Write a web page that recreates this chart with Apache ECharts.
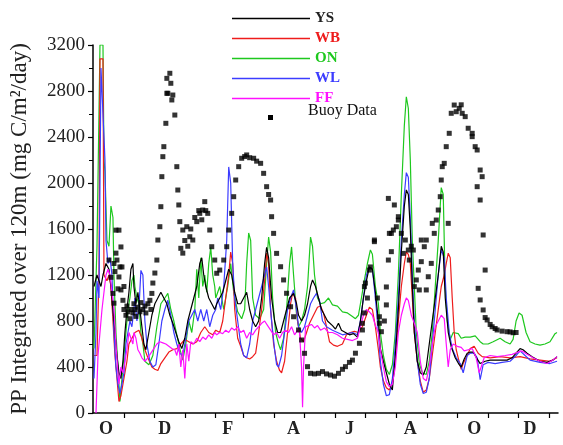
<!DOCTYPE html>
<html>
<head>
<meta charset="utf-8">
<script src="https://cdn.jsdelivr.net/npm/echarts@6/dist/echarts.min.js"></script>
<style>
  html, body { margin: 0; padding: 0; background: #fff; }
  #chart { width: 563px; height: 445px; }
</style>
</head>
<body>
<div id="chart"></div>
<script>
// x values are days counted from 1 October; y values in mg C/m2/day
const monthStarts = [31, 61, 92, 123, 151, 182, 212, 243, 273, 304, 335, 365, 396, 426, 457];
const monthLabels = ['O', 'D', 'F', 'A', 'J', 'A', 'O', 'D'];
const monthLabelDays = [13, 72, 135, 201, 257, 318, 382, 438];

const onLine = [[1,560],[3,560],[4,1450],[6,1450],[7,3200],[10,3200],[11,2200],[12,2100],[14,1500],[16,1450],[18,1800],[20,1700],[21,1200],[23,700],[25,400],[27,100],[29,300],[31,500],[33,700],[35,900],[37,1000],[39,1150],[41,1200],[42,1100],[44,1000],[46,950],[48,700],[50,600],[52,450],[56,420],[60,500],[64,750],[68,950],[72,1000],[75,1040],[78,900],[81,800],[84,680],[87,560],[90,460],[93,600],[96,800],[99,700],[102,900],[104,1250],[106,1000],[108,1350],[110,1100],[112,1200],[114,1050],[116,1300],[118,1440],[120,1200],[122,1100],[123,1000],[127,1100],[131,900],[135,1100],[138,1300],[141,1050],[145,880],[149,820],[152,900],[154,1300],[156,1565],[158,1500],[160,1000],[163,850],[167,820],[171,900],[174,1300],[176,1530],[178,1400],[180,1000],[183,700],[186,600],[188,550],[191,650],[194,900],[197,1300],[199,1444],[201,1200],[204,850],[206,750],[209,800],[212,900],[215,1100],[218,1530],[220,1450],[222,1200],[225,1000],[228,950],[232,960],[236,1000],[240,940],[245,930],[250,880],[255,870],[260,840],[263,820],[266,850],[269,1000],[272,1157],[275,1300],[278,1418],[280,1380],[283,1100],[286,950],[288,700],[291,500],[294,380],[297,335],[300,420],[303,700],[306,1200],[309,1900],[312,2500],[314,2750],[316,2650],[318,2200],[320,1500],[322,1100],[324,700],[327,430],[330,350],[334,335],[337,450],[340,700],[343,1100],[346,1500],[349,1960],[351,1900],[353,1100],[355,800],[358,640],[361,700],[366,690],[369,650],[373,660],[378,660],[383,670],[388,620],[391,600],[396,600],[401,620],[408,650],[413,620],[418,600],[421,640],[424,800],[427,870],[430,850],[434,700],[438,620],[443,600],[448,590],[453,600],[458,620],[463,690],[465,700]];

const wbLine = [[1,500],[4,500],[6,1200],[7,3080],[10,3080],[11,1200],[14,1150],[16,1200],[18,1100],[20,800],[22,500],[24,300],[26,100],[28,150],[30,250],[32,350],[34,450],[36,600],[39,650],[42,700],[46,720],[49,650],[52,550],[55,480],[59,400],[62,380],[65,370],[68,430],[72,480],[76,530],[80,550],[84,560],[88,600],[92,640],[96,620],[100,600],[104,620],[108,700],[112,750],[116,700],[120,680],[123,720],[127,700],[130,800],[133,1000],[136,1200],[138,1400],[140,1300],[142,900],[145,650],[148,580],[151,500],[154,480],[157,470],[160,490],[163,520],[166,700],[169,900],[172,1150],[174,1390],[176,1300],[178,900],[181,600],[184,450],[187,370],[189,350],[192,450],[195,700],[198,950],[200,1040],[203,1000],[205,800],[208,650],[211,620],[214,700],[217,780],[221,850],[225,920],[228,930],[231,870],[234,750],[237,620],[241,590],[245,580],[250,600],[254,680],[258,700],[262,710],[266,700],[270,750],[274,850],[277,920],[280,900],[283,750],[286,550],[288,400],[291,280],[294,220],[297,200],[300,260],[303,450],[306,800],[309,1100],[312,1300],[314,1400],[316,1380],[318,1300],[320,1000],[322,700],[325,450],[328,280],[331,180],[334,200],[337,300],[340,500],[343,700],[346,900],[349,1100],[352,1200],[354,1300],[356,1390],[358,1350],[360,1000],[362,700],[364,550],[366,480],[369,380],[371,430],[375,500],[378,560],[382,580],[386,520],[390,490],[398,480],[408,490],[418,480],[428,490],[438,470],[448,460],[458,450],[465,480]];

const wlLine = [[1,300],[3,700],[4,1150],[6,1000],[8,3000],[10,2990],[12,2200],[13,1500],[15,1300],[17,1350],[19,1200],[21,700],[23,400],[25,250],[27,170],[29,250],[31,350],[33,600],[35,700],[37,800],[39,750],[41,900],[42,1000],[44,800],[46,900],[48,1240],[50,1200],[52,800],[54,600],[57,450],[60,400],[63,420],[66,600],[69,800],[72,900],[75,980],[78,850],[81,700],[84,600],[87,520],[90,500],[93,650],[96,800],[99,850],[102,900],[105,800],[108,900],[111,800],[114,900],[117,750],[120,850],[123,900],[125,1000],[128,900],[131,1100],[134,1500],[136,2140],[138,2000],[140,1300],[142,1000],[145,800],[148,600],[151,500],[154,480],[157,600],[160,800],[163,900],[166,1000],[169,1100],[172,1200],[174,1270],[176,1100],[179,800],[182,550],[184,420],[186,400],[189,500],[192,700],[195,900],[198,1000],[201,1070],[204,900],[206,750],[209,700],[212,750],[215,850],[218,950],[221,1000],[224,1040],[227,980],[230,800],[234,750],[240,720],[245,700],[250,680],[255,690],[260,700],[265,680],[268,800],[271,1000],[274,1200],[277,1270],[280,1250],[283,1000],[286,700],[288,450],[291,250],[294,150],[297,160],[300,300],[303,600],[306,1000],[309,1500],[312,1900],[314,2090],[316,2050],[318,1700],[320,1200],[322,800],[325,450],[328,250],[331,170],[334,180],[337,300],[340,600],[343,900],[346,1200],[349,1420],[352,1350],[354,1000],[357,700],[360,560],[364,480],[368,430],[371,350],[375,500],[378,520],[382,520],[385,480],[388,290],[391,420],[396,440],[403,430],[410,440],[418,450],[424,500],[428,540],[433,500],[438,460],[448,440],[458,430],[465,450]];

const ysLine = [[1,1100],[4,1200],[6,1150],[8,1100],[10,1200],[13,1300],[16,1250],[18,1100],[20,900],[22,700],[24,500],[26,350],[28,300],[30,450],[32,700],[34,900],[36,1050],[38,1250],[40,1300],[41,1100],[43,950],[45,1050],[47,900],[49,750],[51,600],[53,550],[56,700],[59,850],[62,950],[65,1000],[68,1050],[71,1000],[74,950],[77,850],[80,780],[83,700],[86,620],[89,560],[92,650],[95,800],[98,900],[101,1000],[104,1100],[107,1300],[109,1350],[111,1200],[113,1100],[116,1000],[119,950],[122,900],[124,950],[127,1000],[130,1050],[133,1150],[136,1250],[139,1200],[142,1050],[145,950],[148,950],[151,1000],[154,1050],[157,900],[160,800],[163,750],[166,800],[169,1000],[172,1300],[174,1440],[176,1350],[179,1000],[182,800],[185,700],[188,700],[191,800],[194,900],[197,1000],[201,1040],[204,950],[206,850],[209,800],[212,850],[215,950],[218,1100],[220,1157],[223,1100],[226,1000],[229,900],[232,850],[235,800],[240,760],[243,730],[246,780],[249,720],[253,700],[257,680],[261,690],[265,660],[268,800],[271,1000],[274,1150],[277,1270],[280,1250],[283,1050],[286,800],[288,560],[291,450],[294,350],[297,250],[300,200],[303,500],[306,900],[309,1400],[312,1800],[314,1940],[316,1900],[318,1600],[320,1100],[322,700],[325,450],[328,350],[331,330],[334,400],[337,600],[340,800],[343,1000],[346,1200],[349,1450],[351,1400],[353,1000],[356,700],[359,575],[363,480],[367,420],[369,400],[372,470],[375,520],[378,530],[381,530],[385,470],[388,430],[393,450],[398,460],[408,460],[415,460],[420,480],[424,520],[428,560],[431,550],[435,520],[440,490],[448,450],[455,440],[461,460],[465,490]];

const ffLine = [[3,0],[4,0],[5,500],[7,700],[9,900],[11,1050],[13,1200],[15,1250],[17,1200],[19,1050],[21,900],[23,600],[25,350],[26,250],[28,400],[30,350],[32,450],[34,550],[36,700],[38,650],[40,600],[41,700],[43,650],[45,550],[47,520],[49,480],[52,450],[55,480],[58,520],[61,560],[64,600],[67,620],[70,610],[73,600],[76,580],[79,560],[82,550],[84,500],[86,600],[88,400],[90,550],[92,300],[94,600],[96,450],[98,620],[101,600],[104,650],[107,620],[110,660],[113,640],[116,680],[119,650],[122,700],[124,680],[127,700],[130,690],[133,720],[136,700],[139,740],[142,720],[145,750],[148,700],[151,720],[154,650],[157,700],[160,680],[163,720],[166,750],[169,780],[172,800],[175,760],[178,720],[181,680],[184,700],[187,650],[190,700],[193,720],[196,700],[199,750],[202,680],[205,720],[207,700],[209,400],[210,50],[211,400],[213,750],[216,760],[219,770],[222,740],[225,760],[228,720],[232,740],[236,700],[240,700],[245,680],[250,650],[255,640],[260,630],[265,650],[268,750],[271,850],[274,900],[277,880],[280,850],[283,760],[286,700],[288,550],[291,400],[294,270],[297,230],[300,250],[303,400],[306,700],[309,850],[312,950],[314,1000],[316,980],[319,850],[322,780],[325,700],[328,450],[331,300],[334,280],[337,400],[340,600],[343,750],[346,800],[349,850],[352,820],[354,600],[356,400],[358,550],[361,600],[365,580],[369,570],[372,540],[376,550],[380,560],[384,480],[387,350],[389,400],[392,480],[398,500],[405,490],[413,500],[420,510],[426,530],[430,540],[435,510],[441,480],[448,450],[455,430],[461,460],[465,490]];

const buoyPts = [[16,1330],[18,1180],[20,1040],[21,1300],[21,955],[22,1230],[23,1590],[23,1390],[24,1330],[25,1080],[26,1590],[26,1183],[27,1270],[28,1444],[28,1070],[29,1270],[30,980],[31,1100],[31,900],[33,850],[34,930],[35,880],[37,820],[38,900],[40,870],[41,950],[42,900],[43,840],[45,920],[47,880],[48,960],[50,900],[52,930],[53,870],[55,950],[57,980],[58,900],[59,1040],[60,1130],[62,1217],[64,1330],[65,1504],[67,1620],[68,1794],[69,2055],[70,2229],[71,2316],[73,2519],[74,2780],[74,2910],[75,2780],[77,2954],[78,2867],[79,2722],[80,2765],[82,2591],[84,2142],[85,1939],[86,1809],[87,1664],[88,1432],[90,1591],[90,1390],[92,1500],[94,1620],[95,1450],[97,1533],[98,1600],[100,1504],[102,1700],[104,1664],[106,1760],[107,1736],[109,1680],[110,1765],[112,1838],[113,1760],[115,1736],[117,1591],[119,1446],[122,1330],[124,1215],[127,1243],[131,1330],[134,1446],[136,1591],[139,1736],[141,1881],[143,2026],[146,2142],[149,2215],[152,2230],[154,2244],[157,2220],[161,2215],[164,2190],[168,2171],[171,2084],[174,1968],[176,1900],[178,1852],[179,1707],[181,1562],[184,1388],[188,1272],[191,1157],[194,1041],[198,924],[201,837],[206,722],[209,635],[212,519],[215,403],[218,345],[222,340],[226,345],[230,360],[234,340],[238,330],[242,320],[246,345],[250,380],[253,403],[257,440],[260,460],[263,520],[267,606],[270,722],[270,780],[272,870],[273,1130],[272,1099],[275,1000],[277,1243],[278,1270],[282,1490],[282,1504],[285,1000],[287,837],[287,780],[289,707],[292,800],[294,940],[294,1096],[296,1330],[296,1866],[297,1562],[299,1562],[299,1403],[301,1591],[302,1809],[304,1620],[306,1678],[306,1707],[309,1562],[311,1388],[313,1504],[316,1417],[317,1330],[319,1450],[321,1417],[322,1099],[324,1157],[326,1243],[327,1070],[329,1316],[329,1504],[332,1446],[334,1504],[334,1070],[336,1185],[339,1301],[340,1649],[342,1562],[344,1678],[346,1765],[348,1881],[349,2026],[350,2142],[352,2171],[354,2316],[356,1649],[357,2432],[359,2606],[362,2678],[364,2620],[367,2649],[369,2680],[370,2606],[373,2577],[376,2476],[380,2432],[380,2403],[383,2316],[385,2287],[385,1968],[388,2113],[390,2055],[388,1852],[391,1548],[393,1243],[386,1084],[388,983],[391,896],[393,830],[395,809],[398,770],[400,750],[403,735],[405,722],[410,712],[415,707],[418,705],[421,698],[424,700]];

const serif = 'Liberation Serif';
const legendLine = 'path://M0,0L78,0L78,1.4L0,1.4Z';

const lineSeries = (name, color, data) => ({
  name: name,
  type: 'line',
  data: data,
  symbol: 'none',
  showSymbol: false,
  lineStyle: { color: color, width: 1.2 },
  itemStyle: { color: color },
  z: 2
});

const chart = echarts.init(document.getElementById('chart'));
chart.setOption({
  animation: false,
  backgroundColor: '#fff',
  grid: { left: 87, right: 5, top: 45, bottom: 32 },
  legend: {
    orient: 'vertical',
    left: 227,
    top: 6,
    itemWidth: 78,
    itemHeight: 12,
    itemGap: 5,
    icon: legendLine,
    textStyle: { fontFamily: serif, fontSize: 15, fontWeight: 'bold' },
    data: [
      { name: 'YS', textStyle: { color: '#222' } },
      { name: 'WB', textStyle: { color: '#ee1c1c' } },
      { name: 'ON', textStyle: { color: '#1ec81e' } },
      { name: 'WL', textStyle: { color: '#3c3cff' } },
      { name: 'FF', textStyle: { color: '#ff10ff' } }
    ]
  },
  graphic: [
    { type: 'rect', left: 268, top: 115, shape: { width: 5, height: 5 }, style: { fill: '#000' } },
    { type: 'text', left: 308, top: 103, style: { text: 'Buoy Data', fill: '#111', font: '16px "Liberation Serif"' } }
  ],
  xAxis: {
    type: 'value',
    min: 0,
    max: 466,
    splitLine: { show: false },
    axisLine: { lineStyle: { color: '#000', width: 1.5 } },
    axisTick: { customValues: monthStarts, length: 5, lineStyle: { color: '#000', width: 1.2 } },
    axisLabel: {
      customValues: monthLabelDays,
      formatter: v => monthLabels[monthLabelDays.indexOf(v)] || '',
      fontFamily: serif,
      fontSize: 18,
      fontWeight: 'bold',
      color: '#222',
      margin: 7
    }
  },
  yAxis: {
    type: 'value',
    min: 0,
    max: 3200,
    interval: 400,
    splitLine: { show: false },
    axisLine: { show: true, lineStyle: { color: '#000', width: 1.5 } },
    axisTick: { show: true, length: 5, lineStyle: { color: '#000', width: 1.2 } },
    minorTick: { show: true, splitNumber: 2, length: 4, lineStyle: { color: '#000', width: 1 } },
    axisLabel: { fontFamily: serif, fontSize: 19, color: '#222', margin: 8, formatter: v => String(v) },
    name: 'PP Integrated over 120m (mg C/m\u00b2/day)',
    nameLocation: 'middle',
    nameGap: 62,
    nameTextStyle: { fontFamily: serif, fontSize: 23, color: '#222' }
  },
  series: [
    lineSeries('ON', '#1ec81e', onLine),
    lineSeries('WB', '#ee1c1c', wbLine),
    lineSeries('WL', '#3c3cff', wlLine),
    lineSeries('YS', '#000000', ysLine),
    lineSeries('FF', '#ff10ff', ffLine),
    {
      name: 'Buoy Data',
      type: 'scatter',
      data: buoyPts,
      symbol: 'rect',
      symbolSize: 5,
      itemStyle: { color: '#000' },
      z: 5
    }
  ]
});
</script>
</body>
</html>
